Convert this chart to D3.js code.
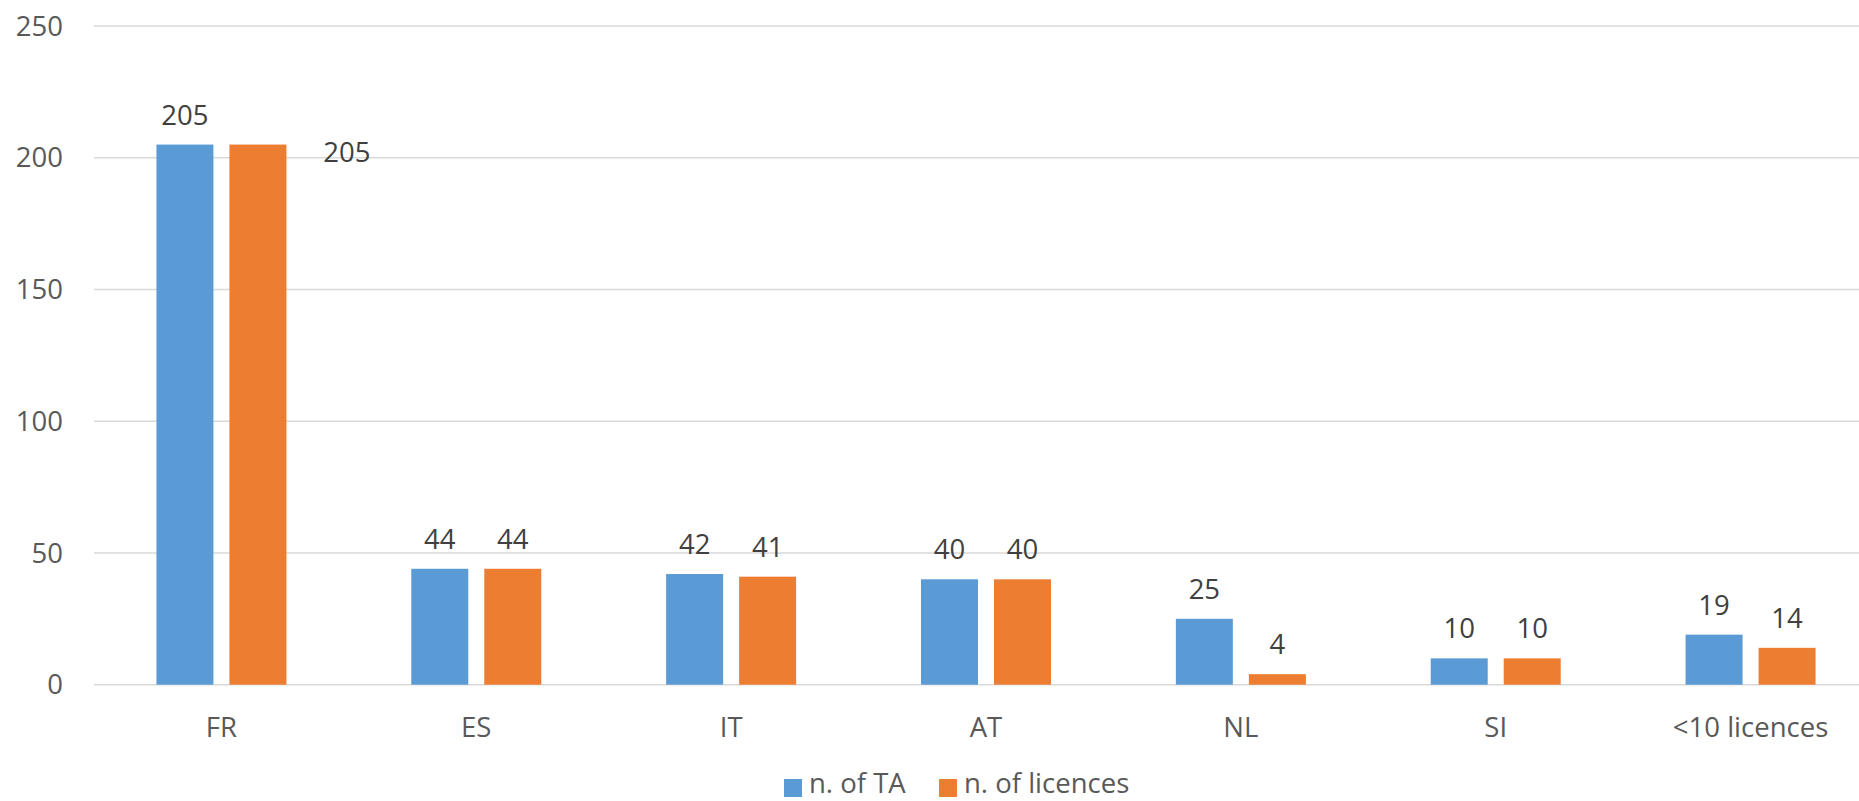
<!DOCTYPE html>
<html>
<head>
<meta charset="utf-8">
<script src="https://cdn.jsdelivr.net/npm/d3@7"></script>
<style>
  body { margin: 0; background: #fff; }
  text { font-family: "Open Sans", "Liberation Sans", sans-serif; }
</style>
</head>
<body>
<svg class="chart"></svg>
<script>
// data
var categories = ["FR", "ES", "IT", "AT", "NL", "SI", "<10 licences"];
var series_names = ["n. of TA", "n. of licences"];
var ta_values = [205, 44, 42, 40, 25, 10, 19];
var licence_values = [205, 44, 41, 40, 4, 10, 14];
var y_ticks = [0, 50, 100, 150, 200, 250];

var colors = ["#5B9BD5", "#ED7D31"];

var w = 1859, h = 801;
var margin = {top: 26, left: 94, bottom: 116};
// plot area runs a bit past the right edge of the picture
var plot_right = 1878;
var base_y = h - margin.bottom - 0.3;
var font_size = "27.5px";

var chart = d3.select(".chart").attr("width", w).attr("height", h);

var x = d3.scaleBand()
    .domain(categories)
    .range([margin.left, plot_right]);

var y = d3.scaleLinear()
    .domain([0, 250])
    .range([base_y, margin.top]);

var bar_w = 57, bar_gap = 16;

// gridlines
chart.append("g").selectAll("line")
    .data(y_ticks)
  .enter().append("line")
    .attr("x1", margin.left)
    .attr("x2", w)
    .attr("y1", d => y(d))
    .attr("y2", d => y(d))
    .attr("stroke", "#D9D9D9")
    .attr("stroke-width", 1.5);

// y tick labels
chart.append("g").selectAll("text")
    .data(y_ticks)
  .enter().append("text")
    .attr("x", 63)
    .attr("y", d => y(d))
    .attr("dy", "0.35em")
    .attr("text-anchor", "end")
    .attr("fill", "#595959")
    .style("font-size", font_size)
    .text(d => d);

// category labels
chart.append("g").selectAll("text")
    .data(categories)
  .enter().append("text")
    .attr("x", d => x(d) + x.bandwidth() / 2)
    .attr("y", 727)
    .attr("dy", "0.35em")
    .attr("text-anchor", "middle")
    .attr("fill", "#595959")
    .style("font-size", font_size)
    .text(d => d);

var all_series = [ta_values, licence_values];

function barX(i, s) {
  var c = x(categories[i]) + x.bandwidth() / 2;
  return s == 0 ? c - bar_gap / 2 - bar_w : c + bar_gap / 2;
}

all_series.forEach(function(vals, s) {
  var g = chart.append("g").attr("class", "series" + s);

  g.selectAll("rect")
      .data(vals)
    .enter().append("rect")
      .attr("x", (d, i) => barX(i, s))
      .attr("y", d => y(d))
      .attr("width", bar_w)
      .attr("height", d => y(0) - y(d))
      .attr("fill", colors[s]);

  g.selectAll("text")
      .data(vals)
    .enter().append("text")
      .attr("x", function(d, i) {
        var cx = barX(i, s) + bar_w / 2;
        // the FR licence label was dragged out to the right
        if (s == 1 && i == 0) cx += 89;
        return cx;
      })
      .attr("y", function(d, i) {
        var ty = y(d) - 20;
        if (s == 1 && i == 0) ty += 37;
        return ty;
      })
      .attr("text-anchor", "middle")
      .attr("fill", "#404040")
      .style("font-size", font_size)
      .text(d => d);
});

// legend
var legend = chart.append("g").attr("class", "legend");
var legend_x = [784, 939];
series_names.forEach(function(name, s) {
  legend.append("rect")
      .attr("x", legend_x[s])
      .attr("y", 779)
      .attr("width", 18)
      .attr("height", 18)
      .attr("fill", colors[s]);
  legend.append("text")
      .attr("x", legend_x[s] + 25)
      .attr("y", 793)
      .attr("fill", "#595959")
      .style("font-size", font_size)
      .text(name);
});
</script>
</body>
</html>
